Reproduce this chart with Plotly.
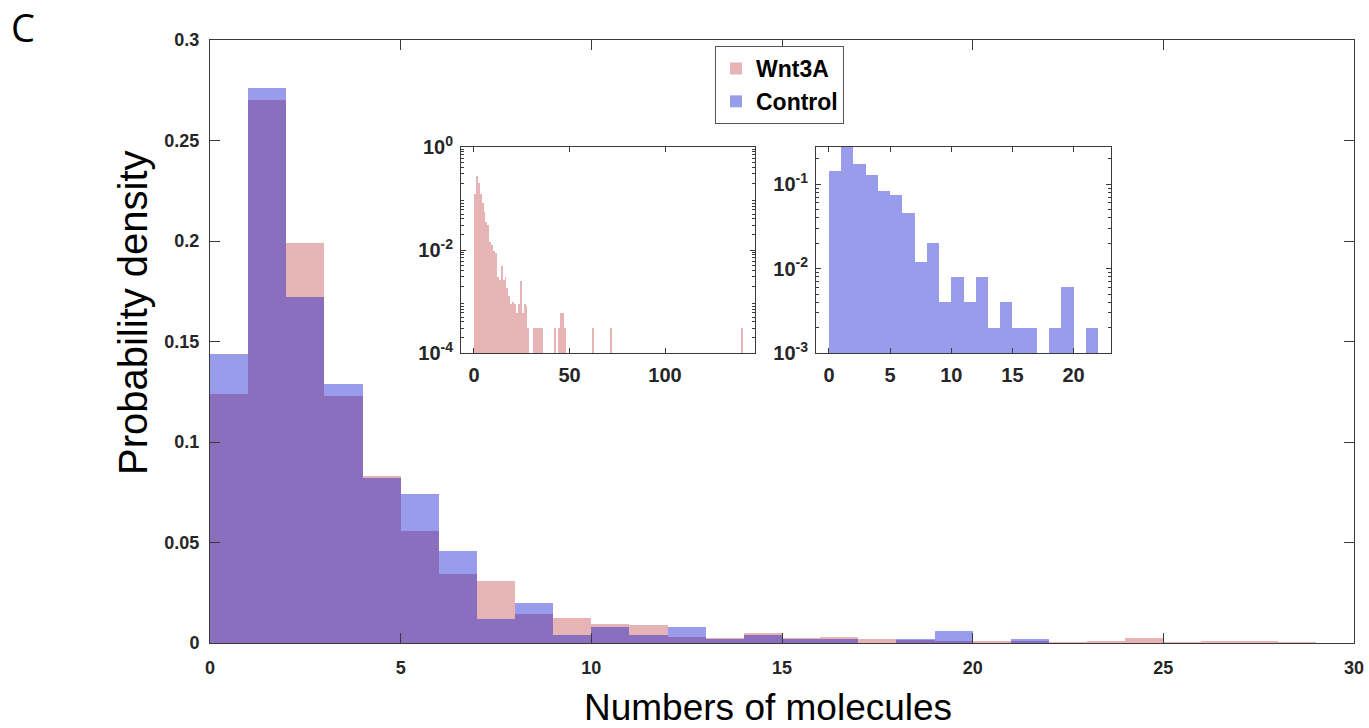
import plotly.graph_objects as go

# bin left edges (width 1) and probability densities
wnt_bins = list(range(29))
wnt_density = [0.1237, 0.2703, 0.1988, 0.1227, 0.0830, 0.0557, 0.0345, 0.0308,
               0.0146, 0.0124, 0.0095, 0.0089, 0.0030, 0.0026, 0.0048, 0.0026,
               0.0030, 0.0018, 0.0013, 0.0009, 0.0010, 0.0009, 0.0006, 0.0009,
               0.0025, 0.0006, 0.0009, 0.0008, 0.0003]
# sparse tail of the Wnt3A histogram, only visible in the log inset
wnt_tail_bins = [31, 32, 33, 34, 35, 42, 44, 45, 46, 47, 62, 71, 140]
wnt_tail_density = [0.0003, 0.0003, 0.0003, 0.0003, 0.0003, 0.0003, 0.0003,
                    0.0006, 0.0006, 0.0003, 0.0003, 0.0003, 0.0003]

ctrl_bins = list(range(22))
ctrl_density = [0.144, 0.276, 0.172, 0.129, 0.082, 0.074, 0.046, 0.012,
                0.020, 0.004, 0.008, 0.004, 0.008, 0.002, 0.004, 0.002,
                0.002, 0.000, 0.002, 0.006, 0.000, 0.002]

main_yticks = [0, 0.05, 0.1, 0.15, 0.2, 0.25, 0.3]
main_yticktext = ["0", "0.05", "0.1", "0.15", "0.2", "0.25", "0.3"]

PINK = "rgba(195,67,70,0.4)"
BLUE = "rgba(0,7,205,0.4)"
AXC = "#3a3a3a"
W, H = 1369, 728


def centers(bins):
    return [b + 0.5 for b in bins]


def nonzero(bins, vals):
    pairs = [(b, v) for b, v in zip(bins, vals) if v > 0]
    return [p[0] for p in pairs], [p[1] for p in pairs]


fig = go.Figure()

# main histograms
fig.add_trace(go.Bar(x=centers(wnt_bins), y=wnt_density, width=1, name="Wnt3A",
                     marker=dict(color=PINK, line=dict(width=0))))
fig.add_trace(go.Bar(x=centers(ctrl_bins), y=ctrl_density, width=1, name="Control",
                     marker=dict(color=BLUE, line=dict(width=0))))

# inset 1: Wnt3A, log scale
ib, iv = nonzero(wnt_bins + wnt_tail_bins, wnt_density + wnt_tail_density)
fig.add_trace(go.Bar(x=centers(ib), y=iv, width=1, showlegend=False,
                     marker=dict(color=PINK, line=dict(width=0)),
                     xaxis="x2", yaxis="y2"))

# inset 2: Control, log scale
cb, cv = nonzero(ctrl_bins, ctrl_density)
fig.add_trace(go.Bar(x=centers(cb), y=cv, width=1, showlegend=False,
                     marker=dict(color=BLUE, line=dict(width=0)),
                     xaxis="x3", yaxis="y3"))


def axis_style(size):
    return dict(showline=True, linecolor=AXC, linewidth=1, mirror="ticks",
                ticks="inside", tickcolor=AXC, showgrid=False, zeroline=False,
                automargin=False,
                tickfont=dict(family="Liberation Sans, Arial", size=size,
                              color="#262626", weight="bold"))


main_ax = axis_style(18)
inset_ax = axis_style(20)


def px_x(a, b):
    return [a / W, b / W]


def px_y(top, bottom):
    return [1 - bottom / H, 1 - top / H]


log_minor = dict(ticks="inside", ticklen=3, tickcolor=AXC)

fig.update_layout(
    width=W, height=H,
    margin=dict(l=0, r=0, t=0, b=0, pad=0, autoexpand=False),
    paper_bgcolor="white", plot_bgcolor="white",
    barmode="overlay", bargap=0,
    xaxis=dict(domain=px_x(210, 1354), range=[0, 30], tickvals=[0, 5, 10, 15, 20, 25, 30],
               ticklen=10, ticklabelstandoff=8, **main_ax),
    yaxis=dict(domain=px_y(40, 643), range=[0, 0.3], tickvals=main_yticks,
               ticktext=main_yticktext, ticklen=10, ticklabelstandoff=6, **main_ax),
    xaxis2=dict(domain=px_x(461, 755), range=[-6.8, 147.1], anchor="y2",
                tickvals=[0, 50, 100], ticklen=5, ticklabelstandoff=4, **inset_ax),
    yaxis2=dict(domain=px_y(147, 353), type="log", range=[-4, 0], anchor="x2",
                tickvals=[1e-4, 1e-2, 1], ticklen=5, ticklabelstandoff=3,
                ticktext=["10<sup>-4</sup>", "10<sup>-2</sup>", "10<sup>0</sup>"],
                minor=dict(tickvals=[k * 10 ** e for e in (-4, -3, -2, -1) for k in range(2, 10)],
                           **log_minor),
                **inset_ax),
    xaxis3=dict(domain=px_x(816, 1111), range=[-1.06, 23.06], anchor="y3",
                tickvals=[0, 5, 10, 15, 20], ticklen=5, ticklabelstandoff=4, **inset_ax),
    yaxis3=dict(domain=px_y(147, 353), type="log", range=[-3, -0.559], anchor="x3",
                tickvals=[1e-3, 1e-2, 1e-1], ticklen=5, ticklabelstandoff=3,
                ticktext=["10<sup>-3</sup>", "10<sup>-2</sup>", "10<sup>-1</sup>"],
                minor=dict(tickvals=[k * 10 ** e for e in (-3, -2, -1) for k in range(2, 10)],
                           **log_minor),
                **inset_ax),
    legend=dict(x=715 / W, y=1 - 46 / H, xanchor="left", yanchor="top",
                bgcolor="white", bordercolor="#555", borderwidth=1,
                font=dict(family="Liberation Sans, Arial", size=23, color="black", weight="bold"),
                tracegroupgap=0, itemwidth=30),
    font=dict(family="Liberation Sans, Arial", color="#262626"),
)

fig.add_annotation(text="Numbers of molecules", x=768 / W, y=1 - 707 / H,
                   xref="paper", yref="paper", showarrow=False,
                   xanchor="center", yanchor="middle",
                   font=dict(family="Liberation Sans, Arial", size=37, color="black"))
fig.add_annotation(text="Probability density", x=133 / W, y=1 - 313 / H,
                   xref="paper", yref="paper", showarrow=False, textangle=-90,
                   xanchor="center", yanchor="middle",
                   font=dict(family="Liberation Sans, Arial", size=40, color="black"))
fig.add_annotation(text="C", x=23 / W, y=1 - 27 / H,
                   xref="paper", yref="paper", showarrow=False,
                   xanchor="center", yanchor="middle",
                   font=dict(family="Open Sans, Liberation Sans", size=38, color="black"))

# no page margin or scrollbars around the fixed-size figure
fill_window = (
    "document.documentElement.style.overflow='hidden';"
    "document.body.style.margin='0';"
    "document.body.style.overflow='hidden';"
)
fig.write_html("out.html", config={"displayModeBar": False}, post_script=fill_window)
